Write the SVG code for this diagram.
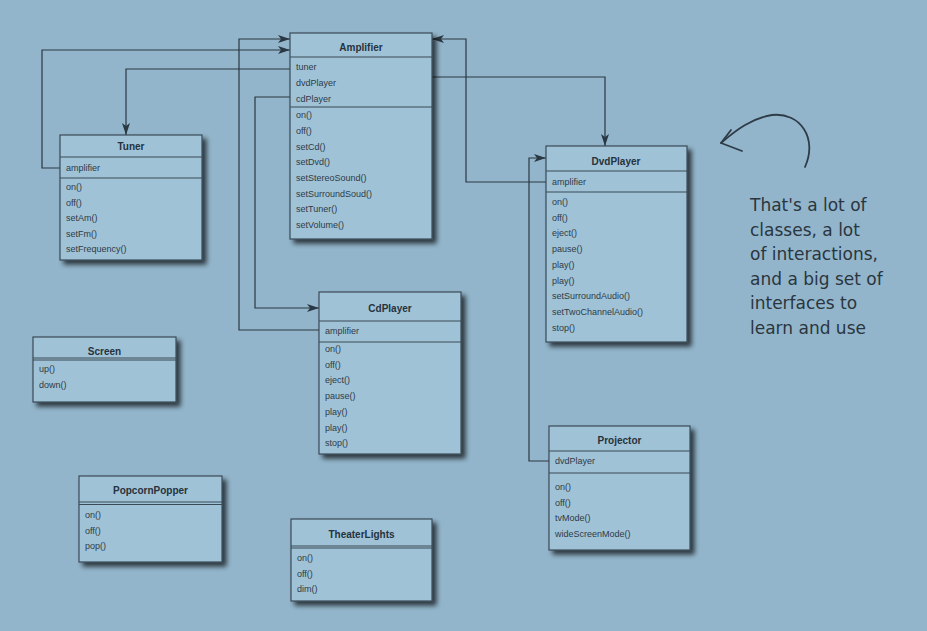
<svg xmlns="http://www.w3.org/2000/svg" width="927" height="631" viewBox="0 0 927 631">
<defs>
<filter id="sh" x="-10%" y="-10%" width="130%" height="130%">
<feGaussianBlur in="SourceAlpha" stdDeviation="2.5"/>
<feOffset dx="4" dy="4" result="b"/>
<feComponentTransfer><feFuncA type="linear" slope="0.7"/></feComponentTransfer>
<feMerge><feMergeNode/><feMergeNode in="SourceGraphic"/></feMerge>
</filter>
<marker id="ah" viewBox="0 0 12 8" refX="12" refY="4" markerWidth="12" markerHeight="8" markerUnits="userSpaceOnUse" orient="auto">
<path d="M0,0 L12,4 L0,8 L3,4 Z" fill="#2a3843"/>
</marker>
</defs>
<style>
.box{fill:#a0c2d7;stroke:#3a4a56;stroke-width:1.2}
.sep{stroke:#3a4a56;stroke-width:1.2}
.t{font-family:"Liberation Sans",Arial,sans-serif;font-size:10px;font-weight:bold;fill:#26323c;text-anchor:middle}
.m{font-family:"Liberation Sans",Arial,sans-serif;font-size:9px;fill:#2e3b46}
.c{fill:none;stroke:#2a3843;stroke-width:1.2}
.note{font-family:"DejaVu Sans",sans-serif;font-size:17px;fill:#2a3540}
</style>
<rect width="927" height="631" fill="#92b5cb"/>

<g id="connectors">
<path class="c" d="M60,168 H42 V50 H290" marker-end="url(#ah)"/>
<path class="c" d="M319,330 H239 V39 H290" marker-end="url(#ah)"/>
<path class="c" d="M290,69 H126 V135" marker-end="url(#ah)"/>
<path class="c" d="M290,97 H255 V308 H319" marker-end="url(#ah)"/>
<path class="c" d="M546,182 H466 V39 H432" marker-end="url(#ah)"/>
<path class="c" d="M432,77 H605 V146" marker-end="url(#ah)"/>
<path class="c" d="M549,461 H529 V158 H546" marker-end="url(#ah)"/>
</g>

<g id="amplifier">
<rect class="box" x="290" y="33" width="142" height="206" filter="url(#sh)"/>
<line class="sep" x1="290" y1="57" x2="432" y2="57"/>
<line class="sep" x1="290" y1="107" x2="432" y2="107"/>
<text class="t" x="361" y="51">Amplifier</text>
<text class="m" x="296" y="70">tuner</text>
<text class="m" x="296" y="86">dvdPlayer</text>
<text class="m" x="296" y="102">cdPlayer</text>
<text class="m" x="296" y="118">on()</text>
<text class="m" x="296" y="134">off()</text>
<text class="m" x="296" y="149.5">setCd()</text>
<text class="m" x="296" y="165">setDvd()</text>
<text class="m" x="296" y="181">setStereoSound()</text>
<text class="m" x="296" y="196.5">setSurroundSoud()</text>
<text class="m" x="296" y="212">setTuner()</text>
<text class="m" x="296" y="228">setVolume()</text>
</g>

<g id="tuner">
<rect class="box" x="60" y="135" width="142" height="125" filter="url(#sh)"/>
<line class="sep" x1="60" y1="157" x2="202" y2="157"/>
<line class="sep" x1="60" y1="178" x2="202" y2="178"/>
<text class="t" x="131" y="150">Tuner</text>
<text class="m" x="66" y="171">amplifier</text>
<text class="m" x="66" y="190">on()</text>
<text class="m" x="66" y="205.5">off()</text>
<text class="m" x="66" y="221">setAm()</text>
<text class="m" x="66" y="236.5">setFm()</text>
<text class="m" x="66" y="252">setFrequency()</text>
</g>

<g id="dvdplayer">
<rect class="box" x="546" y="146" width="141" height="196" filter="url(#sh)"/>
<line class="sep" x1="546" y1="171" x2="687" y2="171"/>
<line class="sep" x1="546" y1="192" x2="687" y2="192"/>
<text class="t" x="616" y="165">DvdPlayer</text>
<text class="m" x="552" y="185">amplifier</text>
<text class="m" x="552" y="205">on()</text>
<text class="m" x="552" y="220.7">off()</text>
<text class="m" x="552" y="236.4">eject()</text>
<text class="m" x="552" y="252.1">pause()</text>
<text class="m" x="552" y="267.8">play()</text>
<text class="m" x="552" y="283.5">play()</text>
<text class="m" x="552" y="299.2">setSurroundAudio()</text>
<text class="m" x="552" y="314.9">setTwoChannelAudio()</text>
<text class="m" x="552" y="330.6">stop()</text>
</g>

<g id="cdplayer">
<rect class="box" x="319" y="292" width="142" height="162" filter="url(#sh)"/>
<line class="sep" x1="319" y1="321" x2="461" y2="321"/>
<line class="sep" x1="319" y1="342" x2="461" y2="342"/>
<text class="t" x="390" y="311.5">CdPlayer</text>
<text class="m" x="325" y="334">amplifier</text>
<text class="m" x="325" y="352">on()</text>
<text class="m" x="325" y="367.7">off()</text>
<text class="m" x="325" y="383.4">eject()</text>
<text class="m" x="325" y="399.1">pause()</text>
<text class="m" x="325" y="414.8">play()</text>
<text class="m" x="325" y="430.5">play()</text>
<text class="m" x="325" y="446.2">stop()</text>
</g>

<g id="projector">
<rect class="box" x="549" y="426" width="141" height="124" filter="url(#sh)"/>
<line class="sep" x1="549" y1="451" x2="690" y2="451"/>
<line class="sep" x1="549" y1="473" x2="690" y2="473"/>
<text class="t" x="619.5" y="444">Projector</text>
<text class="m" x="555" y="464">dvdPlayer</text>
<text class="m" x="555" y="490">on()</text>
<text class="m" x="555" y="505.7">off()</text>
<text class="m" x="555" y="521.4">tvMode()</text>
<text class="m" x="555" y="537">wideScreenMode()</text>
</g>

<g id="screen">
<rect class="box" x="33" y="337" width="143" height="65" filter="url(#sh)"/>
<line class="sep" x1="33" y1="358" x2="176" y2="358"/>
<line class="sep" x1="33" y1="360" x2="176" y2="360" stroke-width="0.6"/>
<text class="t" x="104.5" y="354.5">Screen</text>
<text class="m" x="39" y="372">up()</text>
<text class="m" x="39" y="388">down()</text>
</g>

<g id="popcornpopper">
<rect class="box" x="79" y="476" width="143" height="86" filter="url(#sh)"/>
<line class="sep" x1="79" y1="502" x2="222" y2="502"/>
<line class="sep" x1="79" y1="504.5" x2="222" y2="504.5" stroke-width="0.6"/>
<text class="t" x="150.5" y="494">PopcornPopper</text>
<text class="m" x="85" y="518">on()</text>
<text class="m" x="85" y="533.5">off()</text>
<text class="m" x="85" y="549">pop()</text>
</g>

<g id="theaterlights">
<rect class="box" x="291" y="519" width="141" height="82" filter="url(#sh)"/>
<line class="sep" x1="291" y1="546" x2="432" y2="546"/>
<line class="sep" x1="291" y1="548" x2="432" y2="548" stroke-width="0.6"/>
<text class="t" x="361.5" y="538">TheaterLights</text>
<text class="m" x="297" y="561">on()</text>
<text class="m" x="297" y="576.5">off()</text>
<text class="m" x="297" y="592">dim()</text>
</g>

<g id="note">
<path d="M805,167 C818,138 800,112 772,115 C752,118 736,130 721,143" fill="none" stroke="#2e3c47" stroke-width="1.8" stroke-linecap="round"/>
<path d="M731,130 L721,143 L742,151" fill="none" stroke="#2e3c47" stroke-width="1.8" stroke-linecap="round" stroke-linejoin="round"/>
<text class="note" x="750" y="211">That's a lot of</text>
<text class="note" x="750" y="236">classes, a lot</text>
<text class="note" x="750" y="260">of interactions,</text>
<text class="note" x="750" y="285">and a big set of</text>
<text class="note" x="750" y="309">interfaces to</text>
<text class="note" x="750" y="334">learn and use</text>
</g>
</svg>
